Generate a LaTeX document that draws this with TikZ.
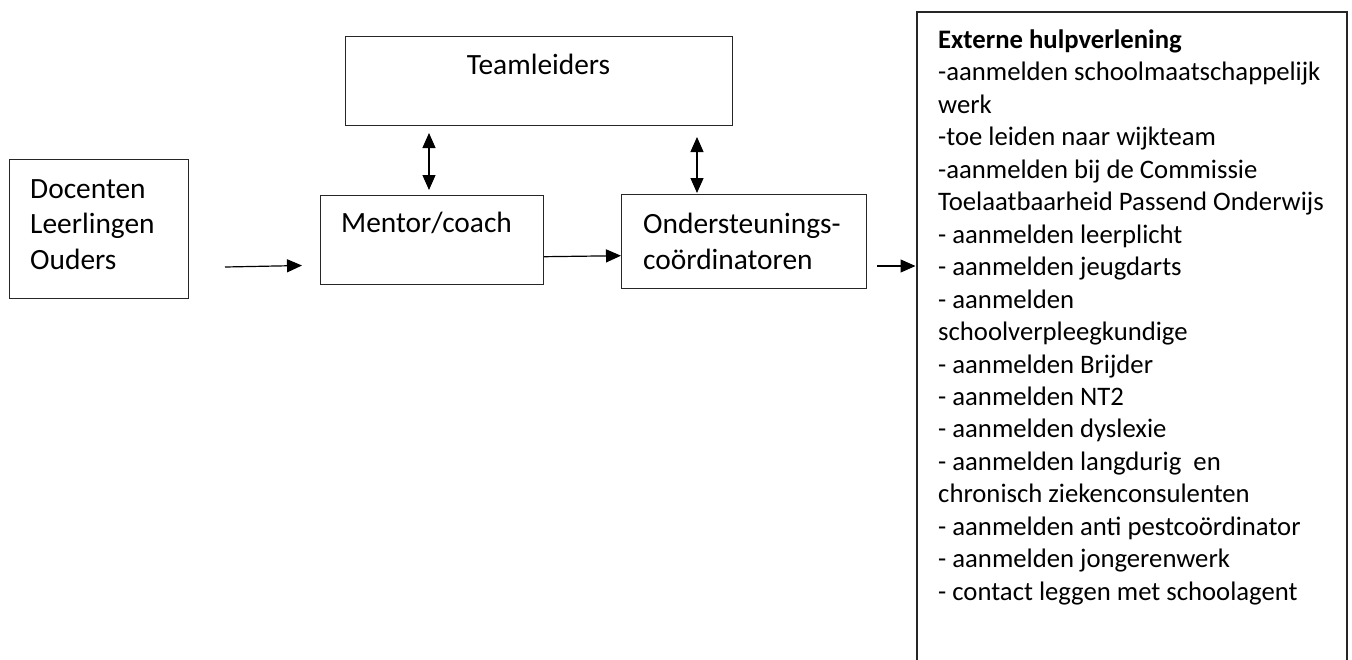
\documentclass[tikz,border=0pt]{standalone}
\usepackage{fontspec}
\setmainfont{Carlito}
\usetikzlibrary{arrows.meta}
\begin{document}
\begin{tikzpicture}[x=1pt,y=-1pt,
  box/.style={draw=black!85, line width=1.2pt, rectangle, inner sep=0pt, anchor=north west},
  big/.style={font={\fontsize{29.4}{35.5}\selectfont}, inner sep=0pt, align=left},
  small/.style={font={\fontsize{26.7}{32.45}\selectfont}, inner sep=0pt, align=left},
  arr/.style={line width=1.2pt, -{Triangle[length=15pt,width=13pt]}},
  darr/.style={line width=1.2pt, {Triangle[length=15pt,width=13pt]}-{Triangle[length=15pt,width=13pt]}}]
\useasboundingbox (0,0) rectangle (1352,659);
% boxes
\node[box, minimum width=179pt, minimum height=139pt] (src) at (9,159) {};
\node[box, minimum width=387pt, minimum height=89pt] (team) at (345,36) {};
\node[box, minimum width=223pt, minimum height=89pt] (mentor) at (320,195) {};
\node[box, minimum width=245pt, minimum height=94pt] (ond) at (621,194) {};
\draw[draw=black!85, line width=1.2pt] (917,660) coordinate (extbl) -- (917,12) coordinate (extnw) -- (1347,12) coordinate (extne) -- (1347,660) coordinate (extbr);
% texts
\node[big, anchor=base west] (srctxt) at (30,198) {Docenten};
\node[big, anchor=base west] (srctxt2) at (30,233.5) {Leerlingen};
\node[big, anchor=base west] (srctxt3) at (30,269) {Ouders};
\node[big, anchor=base] (teamtxt) at (538.5,74) {Teamleiders};
\node[big, anchor=base west] (mentortxt) at (341,232) {Mentor/coach};
\node[big, anchor=base west] (ondtxt) at (643,233) {Ondersteunings-};
\node[big, anchor=base west] (ondtxt2) at (643,269) {coördinatoren};
\node[small, anchor=north west] (exttxt) at (938,{48.3-0.7*32.45}) {\strut\textbf{Externe hulpverlening}\\
-aanmelden schoolmaatschappelijk\\
werk\\
-toe leiden naar wijkteam\\
-aanmelden bij de Commissie\\
Toelaatbaarheid Passend Onderwijs\\
- aanmelden leerplicht\\
- aanmelden jeugdarts\\
- aanmelden\\
schoolverpleegkundige\\
- aanmelden Brijder\\
- aanmelden NT2\\
- aanmelden dyslexie\\
- aanmelden langdurig\ \ en\\
chronisch ziekenconsulenten\\
- aanmelden anti pestcoördinator\\
- aanmelden jongerenwerk\\
- contact leggen met schoolagent};
% connectors
\coordinate (a1s) at (225,267);
\coordinate (a1e) at (302,265.5);
\draw[arr] (a1s) -- (a1e);
\draw[arr] (mentor.east |- 0,256.7) coordinate (a2s) -- (ond.west |- 0,255.7) coordinate (a2e);
\coordinate (a3s) at (877,266);
\coordinate (a3e) at (915.5,266);
\draw[arr] (a3s) -- (a3e);
\coordinate (d1t) at (429,133);
\coordinate (d1b) at (429,190);
\draw[darr] (d1t) -- (d1b);
\coordinate (d2t) at (697,137);
\coordinate (d2b) at (697,193);
\draw[darr] (d2t) -- (d2b);
\end{tikzpicture}
\end{document}
